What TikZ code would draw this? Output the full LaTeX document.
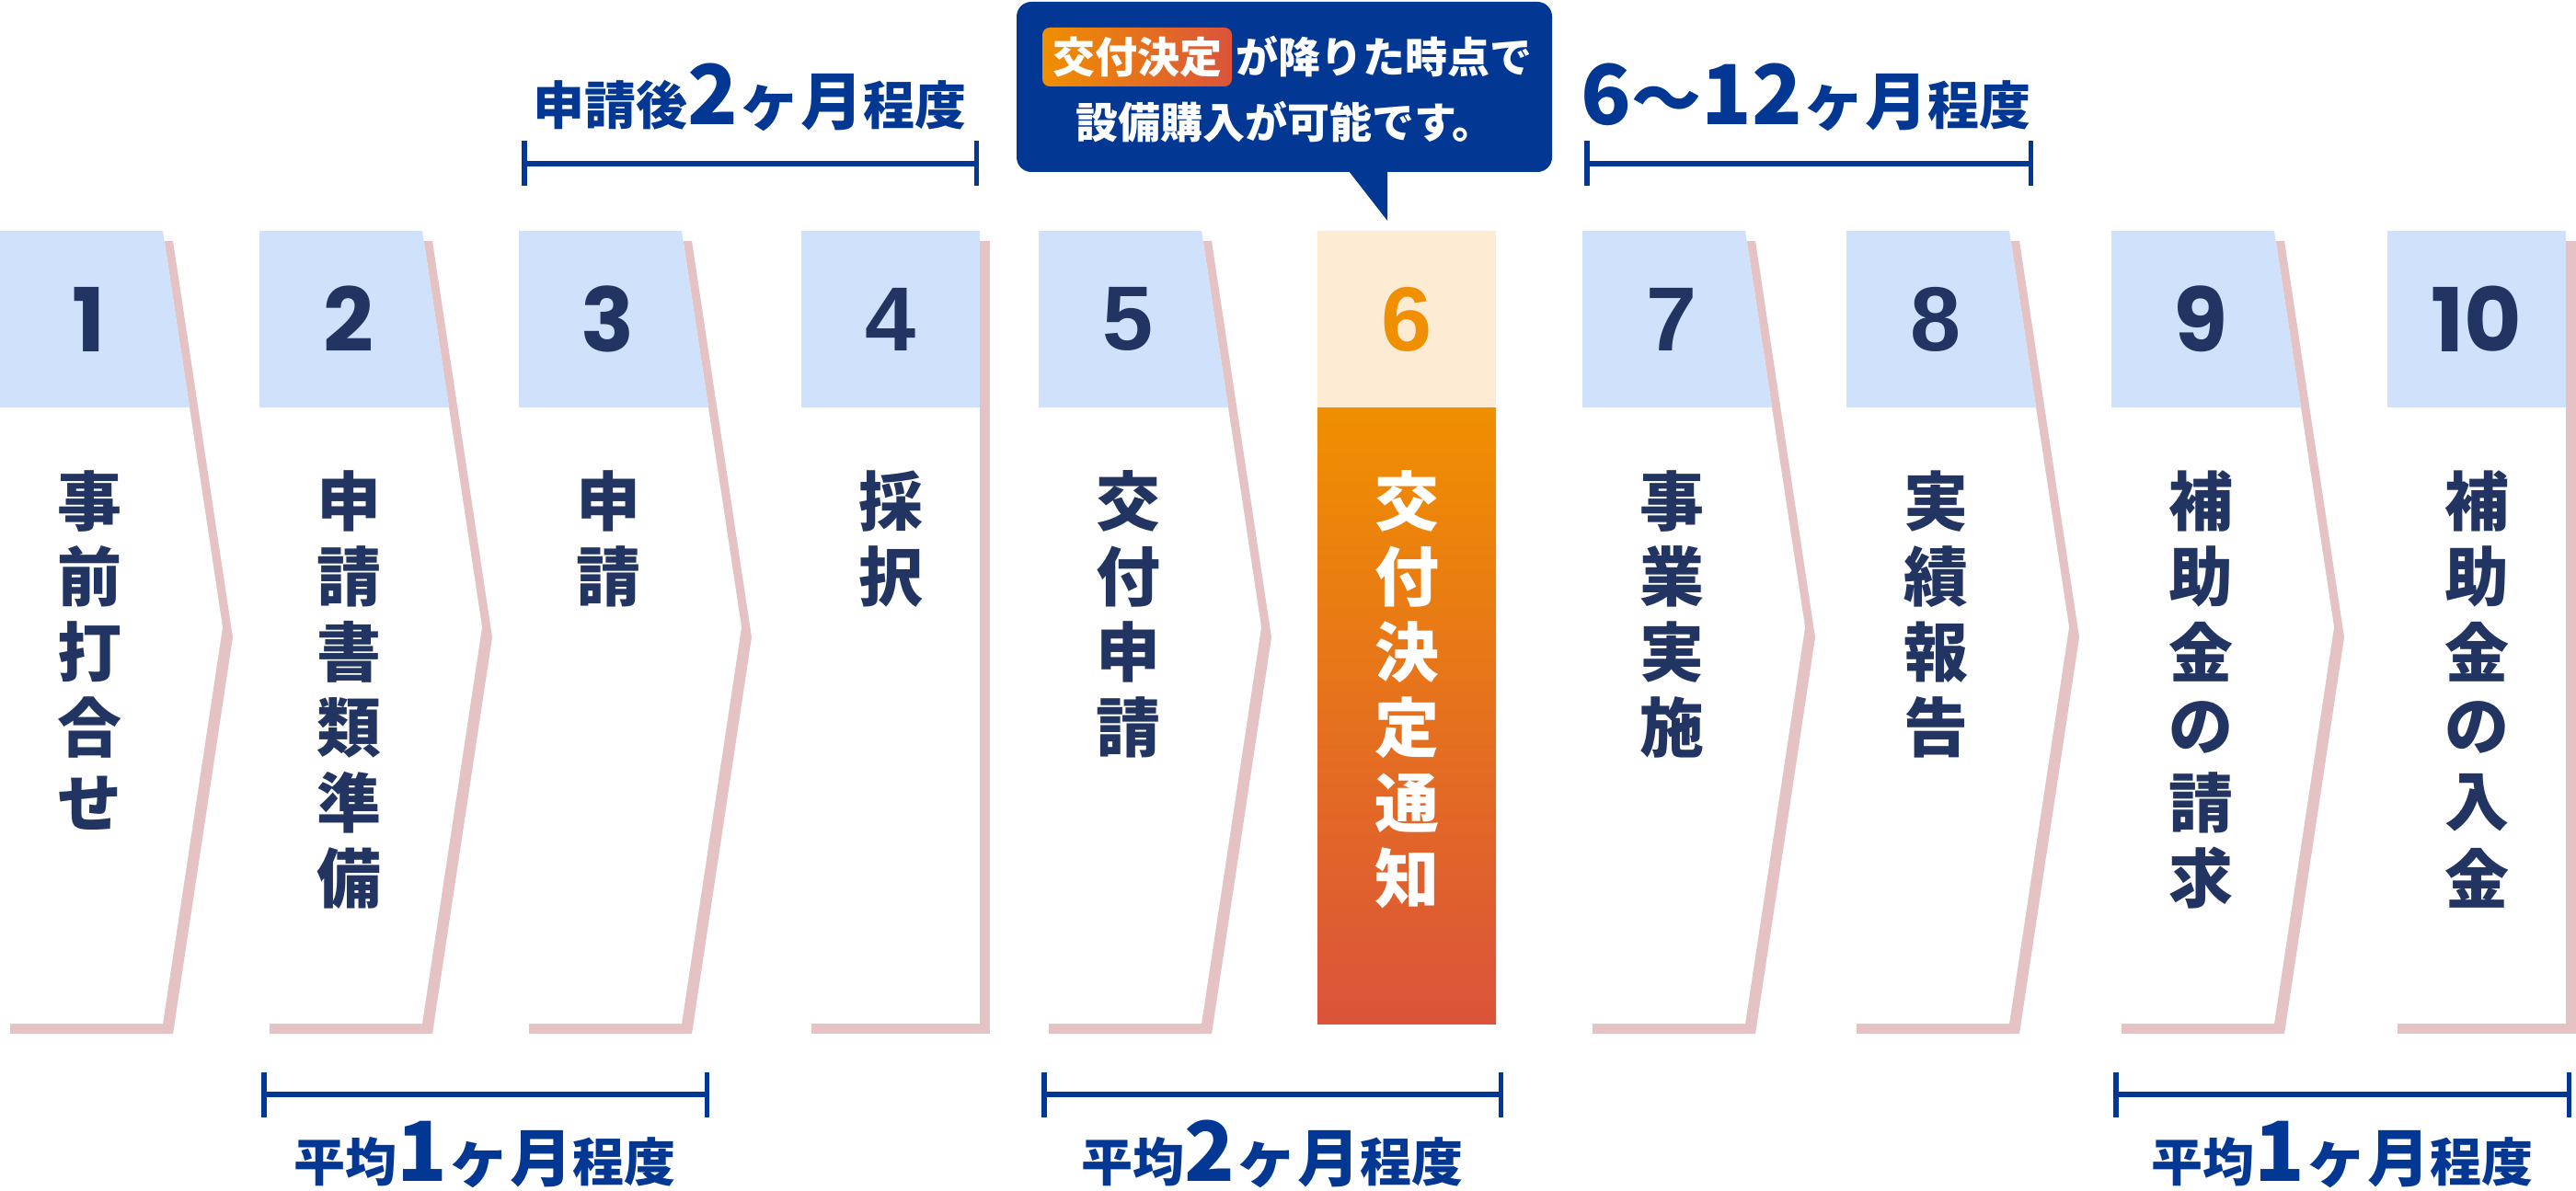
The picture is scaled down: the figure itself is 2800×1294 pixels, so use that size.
\documentclass[tikz,border=0pt]{standalone}
\usepackage{fontspec}
\setmainfont{Noto Sans CJK JP}
\newfontfamily\popfont{Poppins}
\newfontfamily\arfont{Liberation Sans}
\usepackage{tikz}
\usetikzlibrary{arrows.meta,calc}

\definecolor{navy}{RGB}{34,52,98}
\definecolor{headblue}{RGB}{208,225,252}
\definecolor{shadowpink}{RGB}{229,194,195}
\definecolor{flowblue}{RGB}{2,56,148}
\definecolor{cream}{RGB}{253,235,212}
\definecolor{ortop}{RGB}{240,143,0}
\definecolor{orbot}{RGB}{219,83,59}

\newcommand{\smtxt}[1]{{\fontsize{14pt}{14pt}\selectfont #1}}
\newcommand{\midtxt}[1]{{\fontsize{17pt}{17pt}\selectfont #1}}
\newcommand{\bigtxt}[1]{{\fontsize{22.5pt}{22.5pt}\selectfont #1}}

\tikzstyle{popnum}=[font=\popfont\bfseries\fontsize{24pt}{24pt}\selectfont, text=navy, inner sep=0pt]
\tikzstyle{arnum}=[font=\arfont\bfseries\fontsize{24.75pt}{24.75pt}\selectfont, text=navy, inner sep=0pt]
\tikzstyle{letter}=[font=\bfseries\fontsize{17.5pt}{17.5pt}\selectfont, text=navy, inner sep=0pt]
\tikzstyle{pinkshade}=[fill=shadowpink]
\tikzstyle{header}=[fill=headblue]
\tikzstyle{span}=[draw=flowblue, line width=1.375pt, {Bar[width=12.25pt]}-{Bar[width=12.25pt]}]
\tikzstyle{spantext}=[text=flowblue, inner sep=0pt, anchor=base, font=\bfseries]
\tikzstyle{note}=[text=white, inner sep=0pt, font=\bfseries\fontsize{11.5pt}{11.5pt}\selectfont]

\begin{document}
\begin{tikzpicture}[x=0.25pt, y=-0.25pt]

    \useasboundingbox (0,0) rectangle (2800,1294);

    \def\sx{1432};

    % chevron steps
    \foreach \x/\no/\sty/\word in {0/1/popnum/{事,前,打,合,せ}, 282/2/popnum/{申,請,書,類,準,備}, 564/3/popnum/{申,請}, 1129/5/arnum/{交,付,申,請}, 1720/7/arnum/{事,業,実,施}, 2007/8/arnum/{実,績,報,告}, 2295/9/popnum/{補,助,金,の,請,求}}
    {
        \fill[pinkshade] (\x+11,262) -- (\x+188,262) -- (\x+253,693) -- (\x+188,1124) -- (\x+11,1124) -- cycle;
        \fill[white] (\x,251) -- (\x+177,251) -- (\x+242,682) -- (\x+177,1113) -- (\x,1113) -- cycle;
        \fill[header] (\x,251) -- (\x+177,251) -- (\x+206,443) -- (\x,443) -- cycle;
        \node[\sty] (num\no) at (\x+97,347) {\no};
        \foreach \c [count=\i] in \word
            \node[letter] (w\no-\i) at (\x+97,545+82*\i-82) {\c};
    }

    % square steps
    \foreach \x/\no/\sty/\word in {871/4/arnum/{採,択}, 2595/10/popnum/{補,助,金,の,入,金}}
    {
        \fill[pinkshade] (\x+11,262) rectangle (\x+205,1124);
        \fill[white] (\x,251) rectangle (\x+194,1113);
        \fill[header] (\x,251) rectangle (\x+194,443);
        \node[\sty] (num\no) at (\x+97,347) {\no};
        \foreach \c [count=\i] in \word
            \node[letter] (w\no-\i) at (\x+97,545+82*\i-82) {\c};
    }

    % step 6
    \fill[cream] (\sx,251) rectangle (\sx+194,443);
    \shade[top color=ortop, bottom color=orbot] (\sx,443) rectangle (\sx+194,1113);
    \node[arnum, text=ortop] (num6) at (\sx+97,347) {6};
    \foreach \c [count=\i] in {交,付,決,定,通,知}
        \node[letter, text=white] (w6-\i) at (\sx+97,545+82*\i-82) {\c};

    % balloon
    \fill[flowblue, rounded corners=4pt] (1105,2) rectangle (1687,187);
    \fill[flowblue] (1466,186) -- (1508,240) -- (1508,186) -- cycle;
    \shade[left color=ortop, right color=orbot, rounded corners=2pt] (1133,30) rectangle (1339,94);
    \node[note] (note-a) at (1236,62) {交付決定};
    \node[note, anchor=west] (note-b) at (1343,62) {が降りた時点で};
    \node[note] (note-c) at (1397,133) {設備購入が可能です。};

    % spans
    \foreach \a/\b/\y/\name in {567/1064/178/top1, 1722/2210/178/top2, 284/771/1190/bot1, 1132/1634/1190/bot2, 2297/2795/1190/bot3}
    {
        \coordinate (\name-l) at (\a,\y);
        \coordinate (\name-r) at (\b,\y);
        \draw[span] (\name-l) -- (\name-r);
    }

    \node[spantext] (top1-t) at (815,136) {\smtxt{申請後}\bigtxt{2}\midtxt{ヶ月}\smtxt{程度}};
    \node[spantext] (top2-t) at (1963,136) {\bigtxt{6}{\fontsize{19pt}{19pt}\selectfont 〜}\bigtxt{12}\midtxt{ヶ月}\smtxt{程度}};
    \node[spantext] (bot1-t) at (527,1284) {\smtxt{平均}\bigtxt{1}\midtxt{ヶ月}\smtxt{程度}};
    \node[spantext] (bot2-t) at (1383,1284) {\smtxt{平均}\bigtxt{2}\midtxt{ヶ月}\smtxt{程度}};
    \node[spantext] (bot3-t) at (2546,1284) {\smtxt{平均}\bigtxt{1}\midtxt{ヶ月}\smtxt{程度}};

\end{tikzpicture}
\end{document}
